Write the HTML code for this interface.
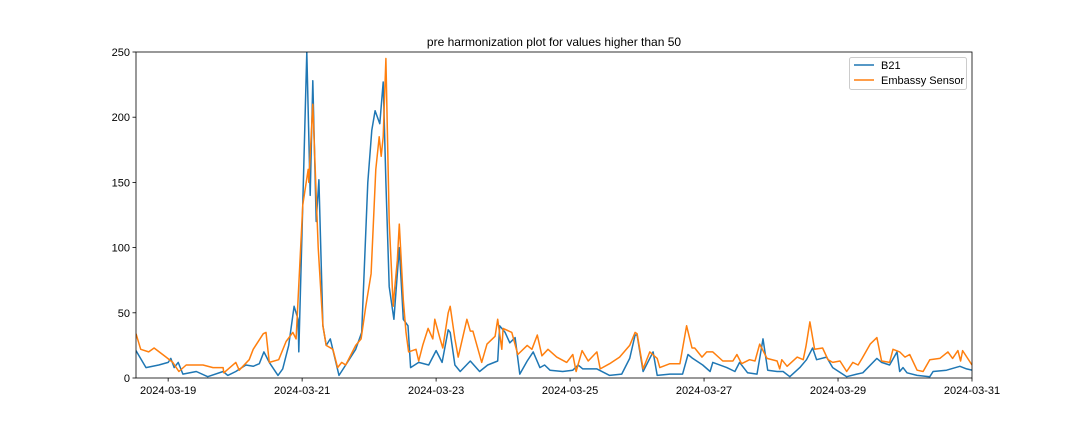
<!DOCTYPE html>
<html><head><meta charset="utf-8"><style>
body{margin:0;background:#fff;font-family:"Liberation Sans","DejaVu Sans",sans-serif}
svg text{font-family:"Liberation Sans","DejaVu Sans",sans-serif;font-size:11px;fill:#000}
</style></head><body>
<svg id="c" width="1080" height="432"></svg>
<script>
const b21Days=[0,.15,.34,.48,.52,.57,.63,.70,.90,1.07,1.30,1.37,1.49,1.64,1.75,1.84,1.91,1.99,2.12,2.19,2.28,2.36,2.42,2.43,2.49,2.55,2.60,2.64,2.69,2.73,2.79,2.84,2.90,3.03,3.13,3.28,3.37,3.46,3.52,3.57,3.64,3.69,3.73,3.78,3.85,3.93,3.99,4.06,4.10,4.22,4.37,4.48,4.57,4.66,4.69,4.76,4.84,4.99,5.13,5.25,5.40,5.43,5.51,5.58,5.66,5.73,5.84,5.93,6.03,6.10,6.18,6.37,6.52,6.60,6.67,6.88,7.07,7.25,7.37,7.45,7.48,7.57,7.72,7.78,7.97,8.16,8.24,8.31,8.46,8.57,8.61,8.82,8.94,9.01,9.13,9.27,9.36,9.43,9.57,9.66,9.76,9.91,10.01,10.10,10.16,10.31,10.40,10.61,10.76,10.85,11.06,11.13,11.25,11.36,11.40,11.45,11.51,11.66,11.85,11.90,12.10,12.30,12.40,12.48];
const b21Values=[21,8,10,12,15,8,12,3,5,1,5,2,5,10,9,11,20,12,2,7,25,55,45,20,134,250,140,228,120,152,40,25,30,2,10,22,35,150,190,205,195,227,150,70,45,100,45,40,8,12,10,21,12,37,35,10,5,13,5,10,13,40,35,27,31,3,13,20,8,10,6,5,6,10,7,7,2,3,15,33,33,5,20,2,3,3,18,15,10,5,12,8,5,12,4,3,30,6,5,5,1,8,14,23,14,16,8,1,3,4,15,12,10,20,5,8,4,2,1,5,6,9,7,6];
const embDays=[0,.07,.19,.27,.45,.55,.64,.75,1.00,1.15,1.30,1.31,1.49,1.54,1.69,1.75,1.90,1.94,1.99,2.13,2.24,2.34,2.39,2.49,2.57,2.58,2.64,2.69,2.72,2.79,2.84,2.94,3.01,3.07,3.13,3.28,3.36,3.43,3.51,3.58,3.63,3.66,3.69,3.73,3.78,3.84,3.85,3.90,3.93,3.99,4.03,4.07,4.18,4.22,4.28,4.36,4.43,4.46,4.54,4.58,4.66,4.69,4.76,4.81,4.94,4.99,5.03,5.16,5.24,5.36,5.40,5.46,5.48,5.61,5.70,5.84,5.91,5.99,6.06,6.15,6.28,6.43,6.52,6.57,6.66,6.75,6.88,6.93,7.07,7.22,7.37,7.45,7.48,7.57,7.67,7.78,7.82,7.97,8.12,8.22,8.30,8.34,8.45,8.52,8.61,8.76,8.91,8.97,9.04,9.16,9.24,9.31,9.42,9.57,9.61,9.64,9.72,9.87,9.96,10.00,10.06,10.13,10.25,10.33,10.40,10.51,10.61,10.70,10.78,10.84,10.96,11.06,11.13,11.25,11.30,11.40,11.48,11.55,11.66,11.75,11.85,12.00,12.12,12.19,12.27,12.31,12.34,12.48];
const embValues=[34,22,20,23,16,12,5,10,10,8,8,4,12,6,14,22,34,35,12,14,28,35,30,133,160,150,210,140,100,40,25,22,8,12,10,25,30,55,80,160,185,170,185,245,120,55,62,90,118,60,35,20,22,13,25,38,30,45,30,23,50,55,30,16,45,36,36,12,26,32,45,22,38,35,18,25,22,33,17,22,16,12,18,5,21,13,20,7,11,16,25,35,34,7,20,15,8,11,11,40,23,23,16,20,20,13,13,18,11,14,13,26,15,13,7,14,9,16,14,24,43,22,23,14,12,13,5,12,10,15,26,31,13,12,22,20,16,18,6,5,14,15,20,15,21,13,21,10];
const xTickDays=[0.48,2.48,4.48,6.48,8.48,10.48,12.48];
const xTickLabels=["2024-03-19","2024-03-21","2024-03-23","2024-03-25","2024-03-27","2024-03-29","2024-03-31"];
const yTicks=[0,50,100,150,200,250];

const NS="http://www.w3.org/2000/svg",svg=document.getElementById('c');
const L=136,R=972,T=52,B=378,xMax=12.48,yMax=250;
const xs=d=>L+d/xMax*(R-L), ys=v=>B-v/yMax*(B-T);
function mk(t,a,p){const e=document.createElementNS(NS,t);for(const k in a)e.setAttribute(k,a[k]);(p||svg).appendChild(e);return e;}
const clip=mk('clipPath',{id:'cl'});mk('rect',{x:L,y:T,width:R-L,height:B-T},clip);
function line(days,vals,color,name){
  const d=days.map((t,i)=>(i?'L':'M')+xs(t).toFixed(1)+','+ys(vals[i]).toFixed(1)).join('');
  const p=mk('path',{d:d,fill:'none',stroke:color,'stroke-width':1.5,'clip-path':'url(#cl)','stroke-linejoin':'round'});
  
  
}
line(b21Days,b21Values,'#1f77b4','b21-line');
line(embDays,embValues,'#ff7f0e','embassy-sensor-line');
const frame=mk('rect',{x:L,y:T,width:R-L,height:B-T,fill:'none',stroke:'#000','stroke-width':0.8});


yTicks.forEach(v=>{
  mk('line',{x1:L-3.5,x2:L,y1:ys(v),y2:ys(v),stroke:'#000','stroke-width':0.8});
  const t=mk('text',{x:L-6,y:ys(v)+4,'text-anchor':'end'});t.textContent=v;
  
  
});
xTickDays.forEach((d,i)=>{
  mk('line',{x1:xs(d),x2:xs(d),y1:B,y2:B+3.5,stroke:'#000','stroke-width':0.8});
  const t=mk('text',{x:xs(d),y:B+16,'text-anchor':'middle'});t.textContent=xTickLabels[i];
  
  
});
const title=mk('text',{x:554,y:46,'text-anchor':'middle',style:'font-size:12px'});title.textContent='pre harmonization plot for values higher than 50';


const lg=mk('g',{});


mk('rect',{x:849.5,y:57.5,width:117,height:32,rx:2,fill:'#fff',stroke:'#ccc'},lg);
[['B21','#1f77b4',69],['Embassy Sensor','#ff7f0e',84]].forEach(([n,c,y])=>{
  mk('line',{x1:854,x2:874,y1:y-4,y2:y-4,stroke:c,'stroke-width':1.5},lg);
  const t=mk('text',{x:881,y:y},lg);t.textContent=n;
  
  
});
</script>
</body></html>
